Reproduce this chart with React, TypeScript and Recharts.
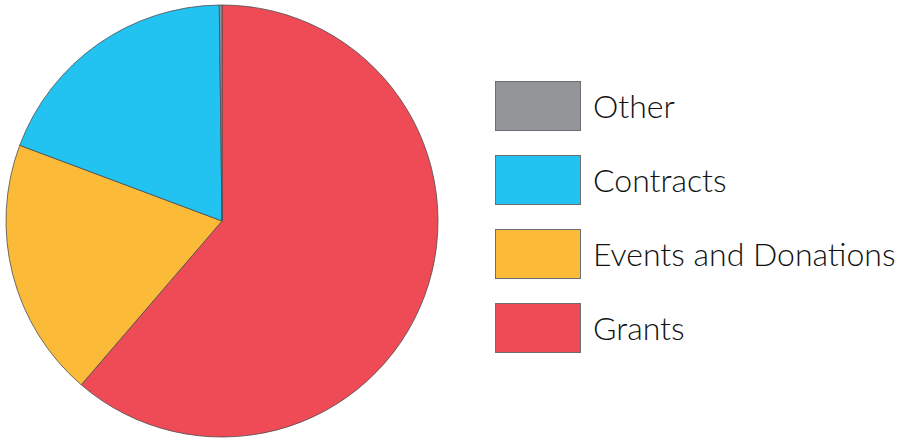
import React from 'react';
import { PieChart, Pie, Cell, Legend } from 'recharts';

const categories = ['Grants', 'Events and Donations', 'Contracts', 'Other'];
const values = [61.3, 19.4, 19.1, 0.2];
const colors = ['#EF4B56', '#FBBA38', '#22C3F0', '#939598'];

const data = categories.map((name, i) => ({ name, value: values[i] }));

const renderLegend = (props: any) => {
  const items = [...(props.payload || [])].sort(
    (a: any, b: any) => categories.indexOf(b.value) - categories.indexOf(a.value)
  );
  return (
    <div style={{ display: 'flex', flexDirection: 'column' }}>
      {items.map((entry: any, i: number) => (
        <div
          key={entry.value}
          style={{
            display: 'flex',
            alignItems: 'center',
            height: 50,
            marginBottom: i < items.length - 1 ? 24 : 0,
          }}
        >
          <div
            style={{
              width: 84,
              height: 48,
              background: entry.color,
              border: '1px solid #6d6e71',
              marginRight: 12,
              flex: 'none',
            }}
          />
          <span
            style={{
              fontFamily: 'Lato, sans-serif',
              fontWeight: 300,
              fontSize: 32,
              color: '#111',
              whiteSpace: 'nowrap',
              lineHeight: '50px',
            }}
          >
            {entry.value}
          </span>
        </div>
      ))}
    </div>
  );
};

export default function App() {
  return (
    <div style={{ position: 'absolute', left: 0, top: 0, width: 897, height: 440, background: '#fff' }}>
      <PieChart width={897} height={440} margin={{ top: 0, right: 0, bottom: 0, left: 0 }}>
        <Pie
          data={data}
          dataKey="value"
          nameKey="name"
          cx={222}
          cy={221}
          outerRadius={216}
          startAngle={90}
          endAngle={-270}
          stroke="#4d4d4f"
          strokeWidth={0.8}
          isAnimationActive={false}
        >
          {data.map((d, i) => (
            <Cell key={d.name} fill={colors[i]} />
          ))}
        </Pie>
        <Legend
          layout="vertical"
          content={renderLegend}
          wrapperStyle={{ position: 'absolute', left: 495, top: 81, width: 400 }}
        />
      </PieChart>
    </div>
  );
}
